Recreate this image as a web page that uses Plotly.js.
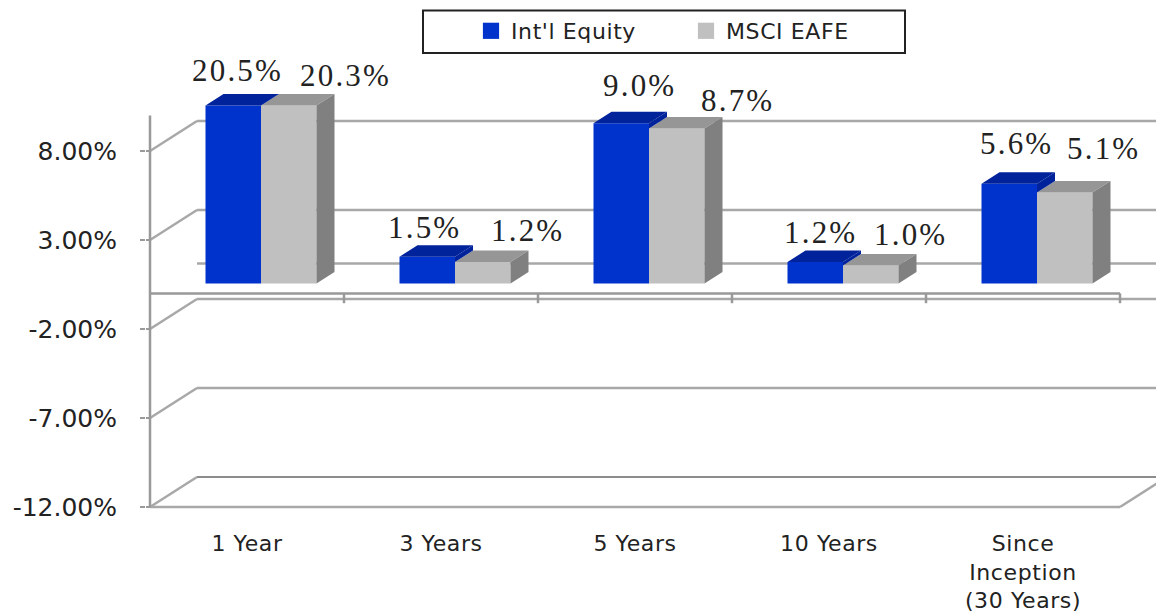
<!DOCTYPE html>
<html>
<head>
<meta charset="utf-8">
<script src="https://cdn.plot.ly/plotly-3.0.1.min.js"></script>
<style>
html,body{margin:0;padding:0;background:#fff;}
.annotation-text{letter-spacing:2.2px;}
.xtick text{letter-spacing:.6px;}
.legendtext{letter-spacing:.6px;}
.legendpoints path{transform:translate(20px,0) scale(1.35);}
</style>
</head>
<body>
<div id="chart" style="width:1156px;height:615px;"></div>
<script>
// ---- data ----
const categories = ['1 Year','3 Years','5 Years','10 Years','Since<br>Inception<br>(30 Years)'];
const intlEquity = [20.5,1.5,9.0,1.2,5.6];
const msciEafe   = [20.3,1.2,8.7,1.0,5.1];
const tickVals   = [8,3,-2,-7,-12];
const tickLabels = ['8.00%','3.00%','-2.00%','-7.00%','-12.00%'];
const axisMax = 10;

// ---- label nudges (px), 3-D depth and styling ----
const labelDxA = [-10,-17,4,-9,-7],  labelDyA = [35,29,38,30,40];
const labelDxB = [98,86,102,81,80],  labelDyB = [30,32,28,31,44];
const pxX = 194, pxY = 17.8, padPx = 4;
const wallDx = 47/pxX, wallDy = 30/pxY;
const barShift = 14/pxX, barBase = 10/pxY, barW = 55.5/pxX;
const topDx = 18/pxX, topDy = 11.5/pxY;
const grid = '#a8a8a8', axisCol = '#999999';
const xLo = -0.5, xHi = 4.5, yLo = -12;
const plotW = 1010, plotH = 511, plotL = 146;
const rangeX0 = xLo - padPx/pxX, rangeY0 = yLo - padPx/pxY;

const idx = categories.map((_, i) => i);
const clip = v => Math.min(v, axisMax);
const topA = intlEquity.map(v => barBase + clip(v));
const topB = msciEafe.map(v => barBase + clip(v));
const leftA = idx.map(i => i + barShift - barW);
const midX  = idx.map(i => i + barShift);
const rightB = idx.map(i => i + barShift + barW);

function poly(list){
  const x = [], y = [];
  list.forEach(p => { p.forEach(q => { x.push(q[0]); y.push(q[1]); }); x.push(null); y.push(null); });
  return {x, y};
}
function face(p, color){
  return {type:'scatter', mode:'lines', x:p.x, y:p.y, fill:'toself', fillcolor:color,
          line:{width:0,color:color}, hoverinfo:'skip', showlegend:false};
}
const topFace = (l, r, t) => [[l,t],[r,t],[r+topDx,t+topDy],[l+topDx,t+topDy],[l,t]];
const sideFace = (r, t, b) => [[r,t],[r+topDx,t+topDy],[r+topDx,b+topDy],[r,b],[r,t]];

const traces = [
  {type:'bar', name:"Int'l Equity", x:idx, y:intlEquity.map(clip), base:barBase, width:barW, offset:barShift-barW,
   marker:{color:'#0033cc'}, hoverinfo:'skip'},
  {type:'bar', name:'MSCI EAFE', x:idx, y:msciEafe.map(clip), base:barBase, width:barW, offset:barShift,
   marker:{color:'#c0c0c0'}, hoverinfo:'skip'},
  face(poly(idx.map(i => topFace(midX[i], rightB[i], topB[i]))), '#969696'),
  face(poly(idx.map(i => sideFace(rightB[i], topB[i], barBase))), '#808080'),
  face(poly(idx.map(i => topFace(leftA[i], midX[i], topA[i]))), '#00239c'),
  face(poly(idx.map(i => sideFace(midX[i], topA[i], topB[i]))), '#00239c')
];

function seg(x0,y0,x1,y1,color,w){
  return {type:'line', xref:'x', yref:'y', x0, y0, x1, y1, layer:'below', line:{color:color||grid, width:w||2.5}};
}
const shapes = [];
tickVals.forEach(t => {
  shapes.push(seg(rangeX0, t, xLo, t, axisCol, 2));
  shapes.push(seg(xLo, t, xLo+wallDx, t+wallDy));
  shapes.push(seg(xLo+wallDx, t+wallDy, xHi+wallDx, t+wallDy, t === yLo ? '#8c8c8c' : grid, t === yLo ? 2 : 2.5));
});
// floor back edge, front zero line and its ticks
shapes.push(seg(xLo+wallDx, wallDy, xHi+wallDx, wallDy));
shapes.push(seg(xLo, 0, xHi, 0, axisCol));
[1,2,3,4,5].forEach(k => shapes.push(seg(xLo+k, 0, xLo+k, -0.55, axisCol)));
// front floor edge and right diagonal
shapes.push(seg(xLo, yLo, xHi, yLo));
shapes.push(seg(xHi, yLo, xHi+wallDx, yLo+wallDy));
// value axis
shapes.push(seg(xLo, yLo, xLo, axisMax, axisCol));
// legend frame
shapes.push({type:'rect', xref:'paper', yref:'paper', x0:(423-plotL)/plotW, x1:(905-plotL)/plotW,
             y0:1-53/plotH, y1:1-10.5/plotH, layer:'above', line:{color:'#222222', width:2}});

const annotations = [];
idx.forEach(i => {
  annotations.push({x:i, y:topA[i], xref:'x', yref:'y', text:intlEquity[i].toFixed(1)+'%', showarrow:false,
    xshift:labelDxA[i], yshift:labelDyA[i], xanchor:'center', yanchor:'middle'});
  annotations.push({x:i, y:topB[i], xref:'x', yref:'y', text:msciEafe[i].toFixed(1)+'%', showarrow:false,
    xshift:labelDxB[i], yshift:labelDyB[i], xanchor:'center', yanchor:'middle'});
});
annotations.forEach(a => { a.font = {family:'"Liberation Serif",serif', size:31, color:'#222222'}; });

const layout = {
  width:1156, height:615,
  margin:{l:plotL, r:0, t:0, b:615-plotH, pad:0},
  paper_bgcolor:'#ffffff', plot_bgcolor:'#ffffff',
  barmode:'overlay', showlegend:true,
  xaxis:{type:'linear', range:[rangeX0, rangeX0 + plotW/pxX], tickmode:'array', tickvals:idx, ticktext:categories,
         showgrid:false, zeroline:false, showline:false, ticks:'', ticklabelstandoff:17,
         tickfont:{family:'"DejaVu Sans",sans-serif', size:22, color:'#222222'}, fixedrange:true, automargin:false},
  yaxis:{range:[rangeY0, rangeY0 + plotH/pxY], tickmode:'array', tickvals:tickVals, ticktext:tickLabels,
         showgrid:false, zeroline:false, showline:false, ticks:'outside', ticklen:5, tickwidth:2, tickcolor:axisCol,
         ticklabelstandoff:18, tickfont:{family:'"DejaVu Sans",sans-serif', size:25, color:'#222222'},
         fixedrange:true, automargin:false},
  legend:{orientation:'h', xref:'paper', yref:'paper', x:(471-plotL)/plotW, y:1-10/plotH, xanchor:'left', yanchor:'top',
          entrywidth:170, entrywidthmode:'pixels', traceorder:'normal', bgcolor:'rgba(0,0,0,0)', borderwidth:0,
          font:{family:'"DejaVu Sans",sans-serif', size:22, color:'#222222'}},
  shapes, annotations
};
Plotly.newPlot('chart', traces, layout, {displayModeBar:false, staticPlot:true});
</script>
</body>
</html>
